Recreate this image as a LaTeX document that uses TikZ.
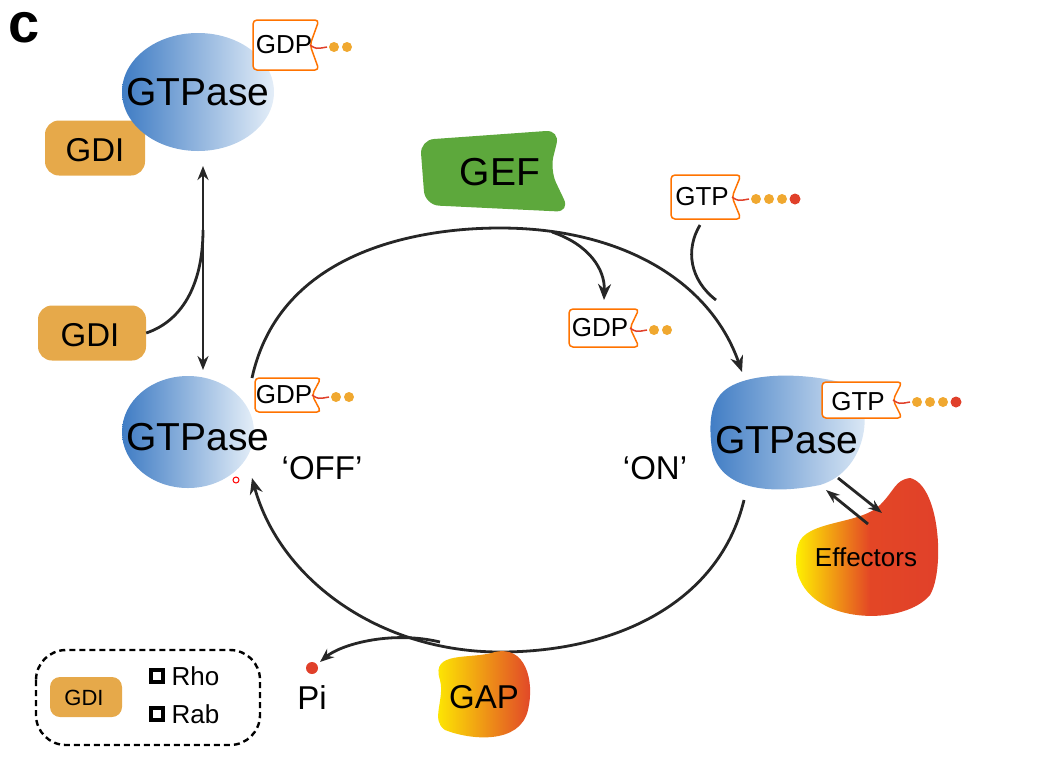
\documentclass[tikz,border=0pt]{standalone}
\usepackage{fontspec}
\setmainfont{Liberation Sans}
\usetikzlibrary{arrows.meta,shapes.geometric}
\definecolor{gdic}{HTML}{E6A94A}
\definecolor{gefc}{HTML}{5DA83C}
\definecolor{bdark}{HTML}{3F7CC4}
\definecolor{blight}{HTML}{E4EEF8}
\definecolor{tagy}{HTML}{F2C230}
\definecolor{dotc}{HTML}{F0A830}
\definecolor{redc}{HTML}{E0402A}
\newcommand\mytag[5]{% x y w h ndots
  \pgfmathsetmacro\xl{#1-#3/2}\pgfmathsetmacro\xr{#1+#3/2}
  \pgfmathsetmacro\yt{#2-#4/2}\pgfmathsetmacro\yb{#2+#4/2}
  \pgfmathsetmacro\xn{\xr-9}
  \draw[line width=1.5pt,rounded corners=4pt,left color=white,right color=white,draw=orange!90!red] (\xl,\yt) -- (\xr,\yt) -- (\xn,#2) -- (\xr,\yb) -- (\xl,\yb) -- cycle;
  \draw[line width=1.5pt,redc] (\xn,#2) .. controls (\xn+6,#2+4) .. (\xr+8,#2+2);
  \foreach \i in {1,...,#5}{\fill[dotc] (\xr+2+13*\i,#2+2) circle (5);}
}
\begin{document}
\begin{tikzpicture}[x=1pt,y=-1pt,
  lbl/.style={font=\fontsize{33}{33}\selectfont},
  big/.style={font=\fontsize{39}{39}\selectfont},
  sm/.style={font=\fontsize{26}{26}\selectfont},
  line/.style={line width=2.8pt,black!85},
  arr/.style={line,-{Stealth[length=16pt,width=13pt]}},
  gtpase/.style={left color=bdark, right color=blight, draw=none},
  gdi/.style={fill=gdic}]
\useasboundingbox (0,0) rectangle (1062,764);
\node[font=\fontsize{56}{56}\selectfont\bfseries] (c) at (24,28) {c};
% top complex
\node[gdi,draw=none,minimum width=100,minimum height=55,rounded corners=14pt] (gdi1) at (95,148) {};
\node[gtpase,ellipse,minimum width=152,minimum height=118] (g1) at (198,92) {};
\mytag{286}{45}{66}{50}{2}
\node[big] (g1t) at (198,92) {GTPase};
\node[lbl] at (95,150) {GDI};
\node[sm] (t1t) at (284,45) {GDP};
% left GDI
\node[gdi,minimum width=108,minimum height=55,rounded corners=14pt] (gdi2) at (92,333) {};
\node[lbl] at (90,335) {GDI};
% bottom left GTPase
\node[gtpase,ellipse,minimum width=132,minimum height=112] (g2) at (188,432) {};
\mytag{288}{395}{66}{34}{2}
\node[big] (g2t) at (198,437) {GTPase};
\node[sm] at (284,395) {GDP};
\node[lbl] (off) at (322,468) {`OFF'};
\draw[red,line width=1pt] (236,480) circle (3);
\coordinate (u1) at (203,166);
\coordinate (u2) at (203,370);
\draw[line,{Stealth[length=14pt,width=11pt]}-{Stealth[length=14pt,width=11pt]}] (u1) -- (u2);
\draw[line] (gdi2.east) .. controls (185,320) and (203,280) .. (203,230);
% cycle
\coordinate (a1) at (252,378);
\coordinate (a2) at (742,372);
\coordinate (b1) at (744,500);
\coordinate (b2) at (252,478);
\draw[arr] (a1) .. controls (280,250) and (420,228) .. (500,228) .. controls (620,228) and (710,280) .. (a2);
\draw[arr] (b1) .. controls (720,600) and (620,652) .. (500,652) .. controls (380,652) and (280,580) .. (b2);
% GEF
\path[fill=gefc,rounded corners=14pt] (420,140) -- (560,130) -- (550,170) -- (570,212) -- (425,205) -- cycle;
\node[big] (gef) at (500,172) {GEF};
\mytag{604}{328}{70}{38}{2}
\node[sm] (t3) at (600,328) {GDP};
\coordinate (e1) at (552,232);
\draw[arr] (e1) .. controls (590,245) and (605,270) .. (604,300);
\mytag{706}{197}{70}{44}{3}
\fill[redc] (795,199) circle (5.5);
\node[sm] (t4) at (702,197) {GTP};
\draw[line] (700,225) .. controls (685,250) and (690,280) .. (716,300);
% right GTPase
\path[gtpase] (720,395) .. controls (740,370) and (810,372) .. (850,385) .. controls (875,400) and (870,470) .. (820,485) .. controls (770,495) and (720,490) .. (712,450) .. controls (708,420) and (712,405) .. (720,395) -- cycle;
\mytag{862}{400}{80}{36}{3}
\fill[redc] (956,402) circle (5.5);
\node[big] (g3) at (787,440) {GTPase};
\node[sm] at (858,402) {GTP};
\node[lbl] (on) at (655,468) {`ON'};
% effectors
\path[left color=yellow!90!orange,right color=redc,middle color=redc!90!orange]
 (798,545) .. controls (805,520) and (860,525) .. (880,505) .. controls (895,490) and (895,480) .. (910,478)
 .. controls (940,485) and (945,570) .. (930,595) .. controls (905,625) and (820,625) .. (800,580) .. controls (795,570) and (795,555) .. (798,545) -- cycle;
\node[sm] (eff) at (866,557) {Effectors};
\coordinate (p1) at (838,478); \coordinate (p2) at (882,513);
\coordinate (q1) at (826,490); \coordinate (q2) at (868,524);
\draw[line,-{Stealth[length=14pt,width=10pt]}] (p1) -- (p2);
\draw[line,-{Stealth[length=14pt,width=10pt]}] (q2) -- (q1);
% GAP
\path[left color=yellow!90!orange,right color=redc]
 (440,680) .. controls (430,650) and (470,660) .. (495,652) .. controls (525,645) and (535,680) .. (528,710)
 .. controls (520,745) and (470,740) .. (445,730) .. controls (430,720) and (445,700) .. (440,680) -- cycle;
\node[lbl] (gap) at (484,697) {GAP};
% Pi
\fill[redc] (312,668) circle (6);
\node[lbl] (pi) at (312,698) {Pi};
\coordinate (c1) at (440,642);
\draw[line,-{Stealth[length=14pt,width=11pt]}] (c1) .. controls (390,630) and (340,645) .. (320,662);
% legend
\draw[line width=2.4pt,dash pattern=on 6pt off 4pt,rounded corners=30pt] (36,650) rectangle (260,745);
\node[gdi,minimum width=72,minimum height=40,rounded corners=10pt] (gdi3) at (86,697) {};
\node[font=\fontsize{22}{22}\selectfont] at (84,698) {GDI};
\draw[line width=3.5pt] (151,670) rectangle (163,682);
\draw[line width=3.5pt] (151,708) rectangle (163,720);
\node[sm,anchor=west] at (168,676) {Rho};
\node[sm,anchor=west] at (168,714) {Rab};
\end{tikzpicture}
\end{document}
